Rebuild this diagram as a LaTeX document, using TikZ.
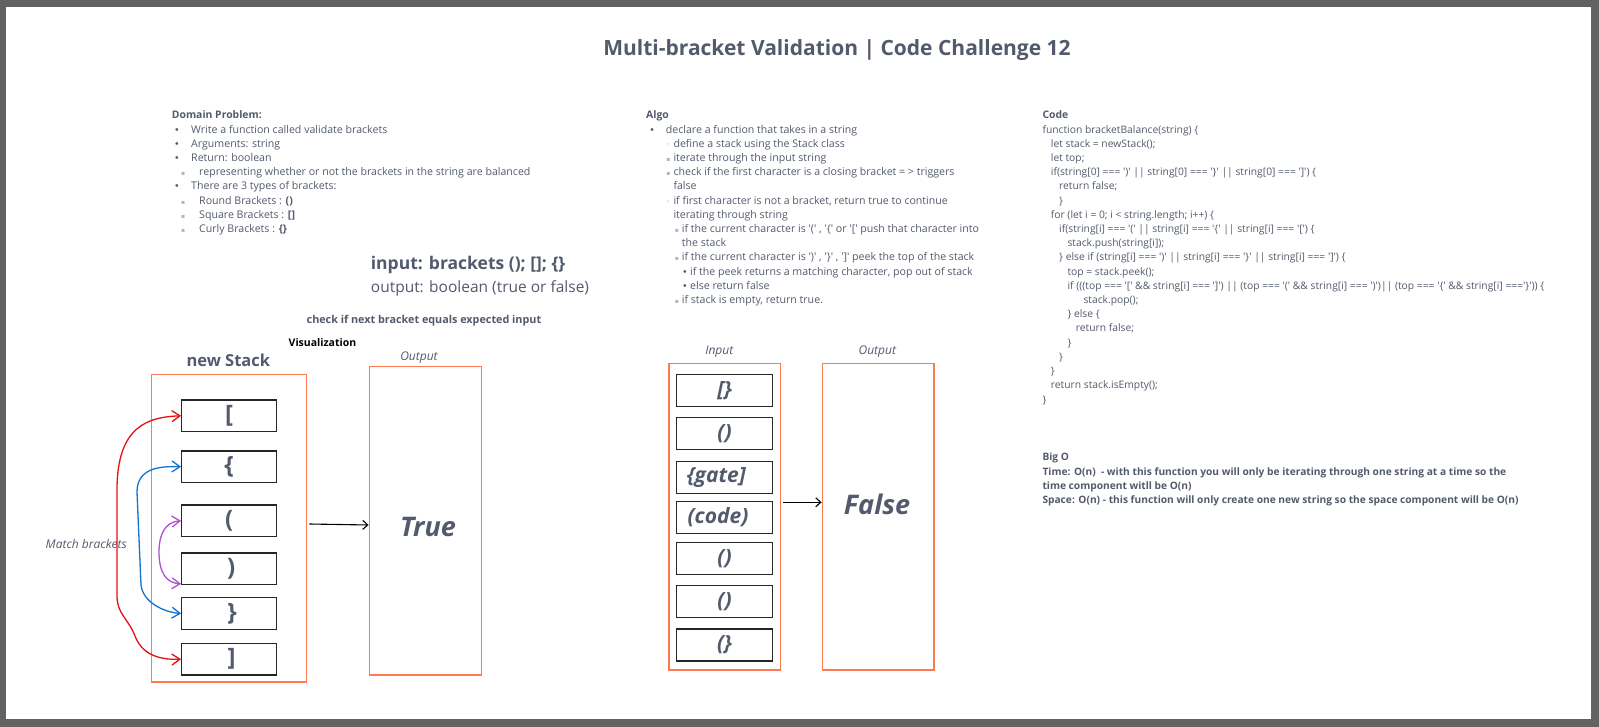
\documentclass[tikz,border=0pt]{standalone}
\usepackage{fontspec}
\setmainfont{Open Sans}[Ligatures=TeXOff]
\newfontfamily\symf{DejaVu Sans}
\usetikzlibrary{arrows.meta,calc}
\definecolor{ink}{RGB}{82,90,108}
\definecolor{lite}{RGB}{175,180,190}
\definecolor{framec}{RGB}{98,98,98}
\definecolor{orng}{RGB}{255,122,82}
\definecolor{redA}{RGB}{226,18,18}
\definecolor{bluA}{RGB}{20,115,205}
\definecolor{purA}{RGB}{176,80,210}
\newcommand\BA[1]{\llap{{\symf\fontsize{9.5}{9.5}\selectfont\textcolor{ink}{•}}\hspace*{#1pt}}}
\newcommand\BB[1]{\llap{{\symf\fontsize{7.5}{7.5}\selectfont\textcolor{lite}{◦}}\hspace*{#1pt}}}
\newcommand\BC[1]{\llap{{\symf\fontsize{6}{6}\selectfont\textcolor{lite}{▪}}\hspace*{#1pt}}}
\newcommand\myline[4]{\node[txt] (#1) at (#2,#3) {#4};}
\newcommand\mycode[4]{\node[txt,font=\fontsize{10.3}{12}\selectfont] (#1) at (#2,#3) {#4};}
\newcommand\myhead[4]{\node[txt,font=\fontsize{10.4}{12}\selectfont\bfseries] (#1) at (#2,#3) {#4};}
\newcommand\mybig[4]{\node[txt,font=\fontsize{10.2}{12}\selectfont\bfseries] (#1) at (#2,#3) {#4};}
\begin{document}
\begin{tikzpicture}[x=1pt,y=-1pt,
  txt/.style={inner sep=0pt,anchor=base west,text=ink,font=\fontsize{10.6}{12}\selectfont},
  obox/.style={draw=orng,line width=1.5pt,inner sep=0pt},
  ibox/.style={draw=black!85,line width=1.3pt,inner sep=0pt,minimum width=95pt,minimum height=31.7pt,text=ink,font=\fontsize{24}{24}\selectfont\bfseries},
  jbox/.style={draw=black!85,line width=1.3pt,inner sep=0pt,minimum width=95.6pt,minimum height=32pt,text=ink,font=\fontsize{21}{21}\selectfont\bfseries\itshape},
  arr/.style={-{Straight Barb[length=5pt,width=9pt]},line width=1.1pt,black},
  curv/.style={{Straight Barb[length=8pt,width=11pt]}-{Straight Barb[length=8pt,width=11pt]},line width=1.3pt},
  lbl/.style={inner sep=0pt,anchor=base,text=ink,font=\fontsize{12}{14}\selectfont\itshape}
]
\useasboundingbox (0,0) rectangle (1599,727);
\fill[framec] (0,0) rectangle (1599,727);
\fill[white] (6,7) rectangle (1591,719);

% title
\node[inner sep=0pt,anchor=base,text=ink,font=\fontsize{21}{24}\selectfont\bfseries] (title) at (837,56) {Multi-bracket Validation | Code Challenge 12};

% Domain problem
\myhead{d0}{171.7}{119}{Domain Problem:}
\myline{d1}{191}{133.2}{\BA{11.5}Write a function called validate brackets}
\myline{d2}{191}{147.4}{\BA{11.5}Arguments: string}
\myline{d3}{191}{161.6}{\BA{11.5}Return: boolean}
\myline{d4}{199}{175.8}{\BC{14}representing whether or not the brackets in the string are balanced}
\myline{d5}{191}{190}{\BA{11.5}There are 3 types of brackets:}
\myline{d6}{199}{204.2}{\BC{14}Round Brackets : \textbf{()}}
\myline{d7}{199}{218.4}{\BC{14}Square Brackets : \textbf{[]}}
\myline{d8}{199}{232.6}{\BC{14}Curly Brackets : \textbf{\{\}}}

% Algo
\myhead{a0}{646}{119}{Algo}
\myline{a1}{665.7}{133.2}{\BA{11}declare a function that takes in a string}
\myline{a2}{673.3}{147.4}{\BB{3}define a stack using the Stack class}
\myline{a3}{673.3}{161.6}{\BC{3}iterate through the input string}
\myline{a4}{673.3}{175.8}{\BC{3}check if the first character is a closing bracket = > triggers}
\myline{a5}{673.3}{190}{false}
\myline{a6}{673.3}{204.2}{\BB{3}if first character is not a bracket, return true to continue}
\myline{a7}{673.3}{218.4}{iterating through string}
\myline{a8}{681.7}{232.6}{\BC{3}if the current character is '(' , '\{' or '[' push that character into}
\myline{a9}{681.7}{246.8}{the stack}
\myline{a10}{681.7}{261}{\BC{3}if the current character is ')' , '\}' , ']' peek the top of the stack}
\myline{a11}{690}{275.2}{\BA{2.5}if the peek returns a matching character, pop out of stack}
\myline{a12}{690}{289.4}{\BA{2.5}else return false}
\myline{a13}{681.7}{303.6}{\BC{3}if stack is empty, return true.}

% Code
\myhead{c0}{1042.3}{119}{Code}
\mycode{c1}{1042.3}{133.2}{function bracketBalance(string) \{}
\mycode{c2}{1050.7}{147.4}{let stack = newStack();}
\mycode{c3}{1050.7}{161.6}{let top;}
\mycode{c4}{1050.7}{175.8}{if(string[0] === ')' || string[0] === '\}' || string[0] === ']') \{}
\mycode{c5}{1059}{190}{return false;}
\mycode{c6}{1059}{204.2}{\}}
\mycode{c7}{1050.7}{218.4}{for (let i = 0; i < string.length; i++) \{}
\mycode{c8}{1059}{232.6}{if(string[i] === '(' || string[i] === '\{' || string[i] === '[') \{}
\mycode{c9}{1067.3}{246.8}{stack.push(string[i]);}
\mycode{c10}{1059}{261}{\} else if (string[i] === ')' || string[i] === '\}' || string[i] === ']') \{}
\mycode{c11}{1067.3}{275.2}{top = stack.peek();}
\mycode{c12}{1067.3}{289.4}{if (((top === '[' \&\& string[i] === ']') || (top === '(' \&\& string[i] === ')')|| (top === '\{' \&\& string[i] ==='\}')) \{}
\mycode{c13}{1083.3}{303.6}{stack.pop();}
\mycode{c14}{1067.3}{317.8}{\} else \{}
\mycode{c15}{1075.7}{332}{return false;}
\mycode{c16}{1067.3}{346.2}{\}}
\mycode{c17}{1059}{360.4}{\}}
\mycode{c18}{1050.7}{374.6}{\}}
\mycode{c19}{1050.7}{388.8}{return stack.isEmpty();}
\mycode{c20}{1042.3}{403}{\}}

% Big O
\mybig{b0}{1042.3}{460.7}{Big O}
\mybig{b1}{1042.3}{475}{Time: O(n) \ - with this function you will only be iterating through one string at a time so the}
\mybig{b2}{1042.3}{489.2}{time component witll be O(n)}
\mybig{b3}{1042.3}{503.4}{Space: O(n) - this function will only create one new string so the space component will be O(n)}

% input / output text
\node[txt,font=\fontsize{17.5}{19}\selectfont\bfseries] (inp) at (370.7,270) {input: brackets (); []; \{\}};
\node[txt,font=\fontsize{15.5}{18}\selectfont] (outp) at (370.7,292.5) {output: boolean (true or false)};
\node[txt,font=\fontsize{10.8}{12}\selectfont\bfseries] (chk) at (306.5,324) {check if next bracket equals expected input};
\node[txt,text=black,font=\fontsize{10.5}{12}\selectfont\bfseries] (vis) at (288.5,346.5) {Visualization};

% left visualization
\node[inner sep=0pt,text=ink,font=\fontsize{16.5}{18}\selectfont\bfseries] (ns) at (228.3,360) {new Stack};
\node[obox,minimum width=155pt,minimum height=307.7pt] (stack) at (229.2,528.15) {};
\node[lbl] (lo1) at (419,360) {Output};
\node[obox,minimum width=112.2pt,minimum height=308.3pt] (outT) at (425.4,520.85) {};
\node[inner sep=0pt,text=ink,font=\fontsize{27}{27}\selectfont\bfseries\itshape] (tT) at (428,526.5) {True};

\node[ibox] (s1) at (229.2,415.8) {[};
\node[ibox] (s2) at (229.2,466.8) {\{};
\node[ibox] (s3) at (229.2,520.8) {(};
\node[ibox] (s4) at (229.2,568.8) {\hspace*{4pt})};
\node[ibox] (s5) at (229.2,613.5) {\hspace*{6pt}\raisebox{-5pt}{\}}};
\node[ibox] (s6) at (229.2,659.2) {\hspace*{5pt}]};

\node[lbl] (mb) at (86.3,548.5) {Match brackets};

\draw[curv,redA] (s1.west) .. controls (148,417) and (117,426) .. (117,490) -- (117,596) .. controls (117,614) and (128,618) .. (135,636) .. controls (142,654) and (158,660) .. (s6.west);
\draw[curv,bluA] (s2.west) .. controls (160,466) and (137,468) .. (137,492) -- (141,585) .. controls (143,602) and (163,612) .. (s5.west);
\draw[curv,purA] (s3.west) .. controls (164,522) and (159,536) .. (159,552) .. controls (159,572) and (166,583) .. ($(s4.south west)+(0,-1.5)$);

\coordinate (ya) at (0,525);
\draw[arr] ($(stack.east |- ya)+(2,-1)$) -- (outT.west |- ya);

% right visualization
\node[lbl] (li) at (719.3,354.5) {Input};
\node[lbl] (lo2) at (877.3,354.5) {Output};
\node[obox,minimum width=111.7pt,minimum height=306.7pt] (inbox) at (724.85,516.65) {};
\node[obox,minimum width=111.7pt,minimum height=306.7pt] (outF) at (878.15,516.65) {};
\node[inner sep=0pt,text=ink,font=\fontsize{27}{27}\selectfont\bfseries\itshape] (tF) at (877,504.5) {False};

\node[jbox] (r1) at (724.5,390.3) {[\}};
\node[jbox] (r2) at (724.5,433.5) {()};
\node[jbox] (r3) at (724.5,477.5) {\hspace*{-16pt}\{gate]};
\node[jbox] (r4) at (724.5,517.5) {\hspace*{-13pt}(code)};
\node[jbox] (r5) at (724.5,558.3) {()};
\node[jbox] (r6) at (724.5,601.2) {()};
\node[jbox] (r7) at (724.5,645) {(\}};

\coordinate (yb) at (0,502.3);
\draw[arr] ($(inbox.east |- yb)+(2,0)$) -- (outF.west |- yb);
\end{tikzpicture}
\end{document}
